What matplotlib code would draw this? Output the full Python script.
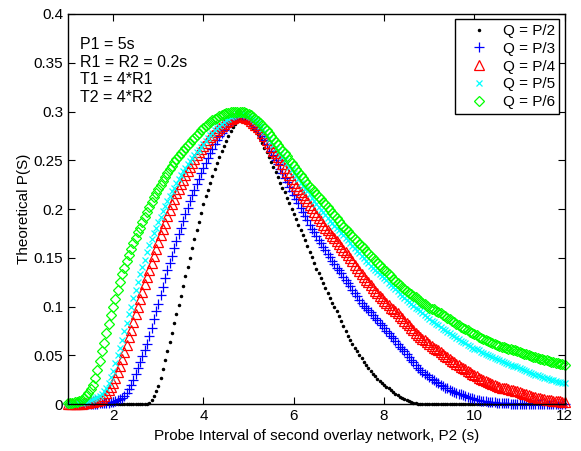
import numpy as np
import matplotlib
matplotlib.use("Agg")
import matplotlib.pyplot as plt

plt.rcParams['font.family'] = ['Liberation Sans', 'DejaVu Sans']

# P2 grid, 0.05 s steps from 1 to 12
p2 = np.linspace(1, 12, 221)

# Q = P/2
q2 = [0, 0, 0, 0, 0, 0, 0, 0, 0, 0,
      0, 0, 0, 0, 0, 0, 0, 0, 0, 0,
      0, 0, 0, 0, 0, 0, 0, 0, 0, 0,
      0, 0, 0, 0, 0, 0, 0.001, 0.004, 0.008, 0.013,
      0.019, 0.027, 0.036, 0.045, 0.054, 0.064, 0.073, 0.083, 0.092, 0.102,
      0.111, 0.121, 0.131, 0.141, 0.150, 0.160, 0.169, 0.178, 0.187, 0.196,
      0.205, 0.213, 0.220, 0.227, 0.234, 0.241, 0.247, 0.253, 0.259, 0.265,
      0.270, 0.275, 0.280, 0.284, 0.287, 0.290, 0.292, 0.293, 0.292, 0.291,
      0.288, 0.286, 0.283, 0.280, 0.277, 0.273, 0.268, 0.263, 0.258, 0.253,
      0.248, 0.243, 0.238, 0.233, 0.227, 0.222, 0.217, 0.211, 0.206, 0.200,
      0.195, 0.190, 0.184, 0.179, 0.173, 0.168, 0.162, 0.156, 0.151, 0.145,
      0.139, 0.134, 0.129, 0.124, 0.119, 0.114, 0.109, 0.104, 0.100, 0.095,
      0.090, 0.085, 0.080, 0.075, 0.070, 0.066, 0.062, 0.058, 0.054, 0.050,
      0.047, 0.043, 0.040, 0.037, 0.034, 0.031, 0.029, 0.026, 0.024, 0.022,
      0.020, 0.018, 0.016, 0.014, 0.012, 0.010, 0.009, 0.007, 0.006, 0.005,
      0.004, 0.003, 0.002, 0.001, 0.001, 0, 0, 0, 0, 0,
      0, 0, 0, 0, 0, 0, 0, 0, 0, 0,
      0, 0, 0, 0, 0, 0, 0, 0, 0, 0,
      0, 0, 0, 0, 0, 0, 0, 0, 0, 0,
      0, 0, 0, 0, 0, 0, 0, 0, 0, 0,
      0, 0, 0, 0, 0, 0, 0, 0, 0, 0,
      0, 0, 0, 0, 0, 0, 0, 0, 0, 0,
      0]

# Q = P/3
q3 = [0, 0, 0, 0, 0, 0, 0, 0, 0, 0,
      0, 0, 0, 0, 0.001, 0.001, 0.001, 0.001, 0.001, 0.002,
      0.002, 0.003, 0.004, 0.005, 0.006, 0.008, 0.011, 0.015, 0.020, 0.025,
      0.031, 0.037, 0.043, 0.049, 0.055, 0.062, 0.070, 0.078, 0.087, 0.095,
      0.103, 0.112, 0.120, 0.129, 0.137, 0.145, 0.152, 0.160, 0.167, 0.174,
      0.181, 0.188, 0.195, 0.201, 0.208, 0.214, 0.220, 0.226, 0.231, 0.237,
      0.242, 0.247, 0.252, 0.257, 0.262, 0.267, 0.271, 0.275, 0.278, 0.281,
      0.284, 0.287, 0.289, 0.291, 0.293, 0.294, 0.295, 0.295, 0.294, 0.293,
      0.291, 0.289, 0.287, 0.284, 0.282, 0.279, 0.275, 0.271, 0.267, 0.263,
      0.259, 0.255, 0.250, 0.246, 0.241, 0.237, 0.232, 0.228, 0.223, 0.219,
      0.214, 0.210, 0.206, 0.201, 0.197, 0.193, 0.189, 0.184, 0.180, 0.176,
      0.172, 0.168, 0.165, 0.161, 0.158, 0.154, 0.151, 0.147, 0.144, 0.140,
      0.137, 0.134, 0.130, 0.127, 0.124, 0.121, 0.117, 0.114, 0.111, 0.107,
      0.104, 0.101, 0.099, 0.096, 0.094, 0.091, 0.088, 0.086, 0.083, 0.081,
      0.078, 0.075, 0.073, 0.070, 0.068, 0.065, 0.062, 0.059, 0.057, 0.054,
      0.051, 0.048, 0.045, 0.043, 0.040, 0.037, 0.035, 0.033, 0.031, 0.030,
      0.028, 0.026, 0.025, 0.023, 0.022, 0.020, 0.019, 0.017, 0.016, 0.014,
      0.013, 0.012, 0.011, 0.010, 0.010, 0.009, 0.008, 0.007, 0.006, 0.006,
      0.005, 0.004, 0.004, 0.003, 0.003, 0.003, 0.002, 0.002, 0.002, 0.002,
      0.0015, 0.001, 0.001, 0.001, 0.001, 0.0007, 0.0006, 0.0005, 0.0004, 0.0003,
      0.0003, 0.0002, 0.0002, 0.0002, 0.0001, 0.0001, 0.0001, 0.0001, 0, 0,
      0, 0, 0, 0, 0, 0, 0, 0, 0, 0,
      0]

# Q = P/4
q4 = [0, 0, 0, 0, 0, 0.0005, 0.0006, 0.0008, 0.001, 0.0012,
      0.002, 0.002, 0.003, 0.003, 0.004, 0.006, 0.008, 0.011, 0.014, 0.018,
      0.022, 0.027, 0.033, 0.039, 0.046, 0.053, 0.061, 0.069, 0.076, 0.084,
      0.092, 0.100, 0.108, 0.115, 0.123, 0.130, 0.137, 0.145, 0.152, 0.159,
      0.166, 0.173, 0.180, 0.186, 0.193, 0.199, 0.205, 0.210, 0.216, 0.221,
      0.226, 0.230, 0.235, 0.239, 0.243, 0.247, 0.251, 0.255, 0.258, 0.262,
      0.265, 0.268, 0.271, 0.274, 0.276, 0.279, 0.281, 0.283, 0.285, 0.287,
      0.289, 0.290, 0.292, 0.293, 0.294, 0.295, 0.295, 0.295, 0.294, 0.293,
      0.292, 0.290, 0.288, 0.286, 0.284, 0.282, 0.278, 0.275, 0.271, 0.268,
      0.264, 0.260, 0.257, 0.253, 0.250, 0.246, 0.242, 0.238, 0.235, 0.231,
      0.227, 0.224, 0.221, 0.217, 0.214, 0.211, 0.208, 0.204, 0.201, 0.197,
      0.194, 0.191, 0.188, 0.184, 0.181, 0.178, 0.175, 0.172, 0.170, 0.167,
      0.164, 0.161, 0.158, 0.156, 0.153, 0.150, 0.147, 0.143, 0.140, 0.136,
      0.133, 0.130, 0.127, 0.125, 0.122, 0.119, 0.116, 0.114, 0.111, 0.109,
      0.106, 0.104, 0.102, 0.099, 0.097, 0.095, 0.093, 0.090, 0.088, 0.085,
      0.083, 0.081, 0.078, 0.076, 0.073, 0.071, 0.069, 0.067, 0.066, 0.064,
      0.062, 0.060, 0.058, 0.057, 0.055, 0.053, 0.051, 0.049, 0.048, 0.046,
      0.044, 0.043, 0.041, 0.040, 0.038, 0.037, 0.036, 0.034, 0.033, 0.031,
      0.030, 0.029, 0.027, 0.026, 0.025, 0.024, 0.023, 0.022, 0.021, 0.020,
      0.019, 0.018, 0.017, 0.017, 0.016, 0.015, 0.014, 0.014, 0.013, 0.013,
      0.012, 0.011, 0.010, 0.010, 0.009, 0.008, 0.007, 0.007, 0.006, 0.006,
      0.005, 0.005, 0.004, 0.004, 0.004, 0.0035, 0.003, 0.003, 0.003, 0.0025,
      0.0024]

# Q = P/5
q5 = [0, 0, 0, 0.0005, 0.0007, 0.001, 0.001, 0.002, 0.002, 0.003,
      0.004, 0.005, 0.006, 0.007, 0.008, 0.010, 0.013, 0.017, 0.022, 0.028,
      0.034, 0.042, 0.050, 0.058, 0.066, 0.075, 0.083, 0.092, 0.100, 0.109,
      0.117, 0.125, 0.133, 0.141, 0.148, 0.156, 0.163, 0.169, 0.175, 0.181,
      0.187, 0.192, 0.198, 0.203, 0.208, 0.213, 0.218, 0.222, 0.227, 0.231,
      0.235, 0.239, 0.242, 0.246, 0.249, 0.252, 0.255, 0.258, 0.261, 0.264,
      0.267, 0.270, 0.273, 0.276, 0.278, 0.281, 0.283, 0.285, 0.287, 0.289,
      0.291, 0.292, 0.294, 0.295, 0.296, 0.297, 0.297, 0.297, 0.297, 0.296,
      0.295, 0.294, 0.292, 0.290, 0.288, 0.285, 0.282, 0.279, 0.276, 0.272,
      0.269, 0.266, 0.263, 0.259, 0.256, 0.253, 0.250, 0.247, 0.243, 0.240,
      0.237, 0.234, 0.231, 0.227, 0.224, 0.221, 0.218, 0.215, 0.211, 0.208,
      0.205, 0.202, 0.199, 0.197, 0.194, 0.191, 0.188, 0.186, 0.183, 0.181,
      0.178, 0.175, 0.173, 0.170, 0.168, 0.165, 0.162, 0.160, 0.157, 0.155,
      0.152, 0.150, 0.147, 0.145, 0.142, 0.140, 0.138, 0.135, 0.133, 0.131,
      0.129, 0.127, 0.124, 0.122, 0.120, 0.118, 0.116, 0.113, 0.111, 0.109,
      0.107, 0.105, 0.103, 0.101, 0.099, 0.097, 0.095, 0.093, 0.091, 0.089,
      0.087, 0.085, 0.084, 0.082, 0.081, 0.079, 0.077, 0.076, 0.074, 0.073,
      0.071, 0.070, 0.068, 0.067, 0.065, 0.064, 0.063, 0.061, 0.060, 0.058,
      0.057, 0.056, 0.055, 0.053, 0.052, 0.051, 0.050, 0.049, 0.048, 0.047,
      0.046, 0.045, 0.044, 0.043, 0.042, 0.041, 0.040, 0.039, 0.039, 0.038,
      0.037, 0.036, 0.035, 0.034, 0.033, 0.032, 0.031, 0.030, 0.030, 0.029,
      0.028, 0.027, 0.027, 0.026, 0.025, 0.025, 0.024, 0.023, 0.023, 0.022,
      0.022]

# Q = P/6
q6 = [0.001, 0.001, 0.001, 0.002, 0.002, 0.003, 0.004, 0.006, 0.008, 0.011,
      0.015, 0.020, 0.027, 0.035, 0.044, 0.054, 0.063, 0.073, 0.082, 0.091,
      0.100, 0.108, 0.117, 0.125, 0.133, 0.140, 0.147, 0.153, 0.159, 0.165,
      0.170, 0.176, 0.181, 0.187, 0.192, 0.197, 0.202, 0.207, 0.212, 0.216,
      0.221, 0.225, 0.229, 0.233, 0.237, 0.241, 0.244, 0.248, 0.251, 0.254,
      0.257, 0.260, 0.263, 0.266, 0.268, 0.271, 0.273, 0.276, 0.278, 0.281,
      0.283, 0.285, 0.287, 0.289, 0.291, 0.292, 0.293, 0.295, 0.296, 0.297,
      0.298, 0.298, 0.299, 0.299, 0.300, 0.300, 0.300, 0.300, 0.299, 0.298,
      0.297, 0.296, 0.294, 0.292, 0.290, 0.288, 0.286, 0.283, 0.281, 0.278,
      0.275, 0.272, 0.269, 0.266, 0.263, 0.260, 0.257, 0.254, 0.250, 0.247,
      0.244, 0.241, 0.238, 0.235, 0.232, 0.229, 0.226, 0.223, 0.221, 0.218,
      0.215, 0.212, 0.210, 0.207, 0.205, 0.202, 0.199, 0.196, 0.194, 0.191,
      0.188, 0.185, 0.182, 0.180, 0.177, 0.174, 0.172, 0.169, 0.167, 0.164,
      0.162, 0.160, 0.157, 0.155, 0.152, 0.150, 0.148, 0.145, 0.143, 0.140,
      0.138, 0.136, 0.133, 0.131, 0.128, 0.126, 0.124, 0.122, 0.120, 0.118,
      0.116, 0.114, 0.113, 0.111, 0.110, 0.108, 0.106, 0.104, 0.103, 0.101,
      0.099, 0.098, 0.097, 0.095, 0.094, 0.093, 0.091, 0.090, 0.088, 0.087,
      0.085, 0.084, 0.082, 0.081, 0.079, 0.078, 0.077, 0.076, 0.074, 0.073,
      0.072, 0.071, 0.069, 0.068, 0.067, 0.066, 0.065, 0.064, 0.063, 0.062,
      0.061, 0.060, 0.059, 0.059, 0.058, 0.057, 0.056, 0.055, 0.055, 0.054,
      0.053, 0.052, 0.051, 0.051, 0.050, 0.049, 0.048, 0.048, 0.047, 0.046,
      0.046, 0.045, 0.045, 0.044, 0.043, 0.043, 0.042, 0.042, 0.041, 0.041,
      0.040]

labels = ['Q = P/2', 'Q = P/3', 'Q = P/4', 'Q = P/5', 'Q = P/6']
notes = ['P1 = 5s', 'R1 = R2 = 0.2s', 'T1 = 4*R1', 'T2 = 4*R2']

fig = plt.figure(figsize=(5.81, 4.51), dpi=100)
ax = fig.add_axes([0.117, 0.104, 0.855, 0.865])

# MATLAB style colours, markers only
ax.plot(p2, q2, '.', color='k', ms=3, label=labels[0], clip_on=False)
ax.plot(p2, q3, '+', color='#0000ff', ms=7, mew=0.9, label=labels[1], clip_on=False)
ax.plot(p2, q4, '^', color='#ff0000', mfc='none', ms=6.5, mew=0.9, label=labels[2], clip_on=False)
ax.plot(p2, q5, 'x', color='#00ffff', ms=4.5, mew=0.9, label=labels[3], clip_on=False)
ax.plot(p2, q6, 'D', color='#00ff00', mfc='none', ms=5.5, mew=0.9, label=labels[4], clip_on=False)

ax.set_xlim(1, 12)
ax.set_ylim(0, 0.4)
ax.set_xticks([2, 4, 6, 8, 10, 12])
ax.set_yticks(np.arange(0, 0.401, 0.05))
ax.set_yticklabels(['0', '0.05', '0.1', '0.15', '0.2', '0.25', '0.3', '0.35', '0.4'])
ax.tick_params(direction='in', top=True, right=True, length=5, labelsize=11)
for s in ax.spines.values():
    s.set_linewidth(1.0)

ax.set_xlabel('Probe Interval of second overlay network, P2 (s)', fontsize=11, labelpad=4)
ax.set_ylabel('Theoretical P(S)', fontsize=11, labelpad=2)

ax.text(0.024, 0.94, '\n'.join(notes), transform=ax.transAxes, fontsize=11.5,
        va='top', ha='left', linespacing=1.2)

leg = ax.legend(loc='upper right', fontsize=11, fancybox=False, edgecolor='k',
                framealpha=1, borderaxespad=0.35, handlelength=2.5,
                labelspacing=0.25, borderpad=0.3, handletextpad=0.3)
leg.get_frame().set_linewidth(1.0)

fig.savefig('out.png', dpi=100)
